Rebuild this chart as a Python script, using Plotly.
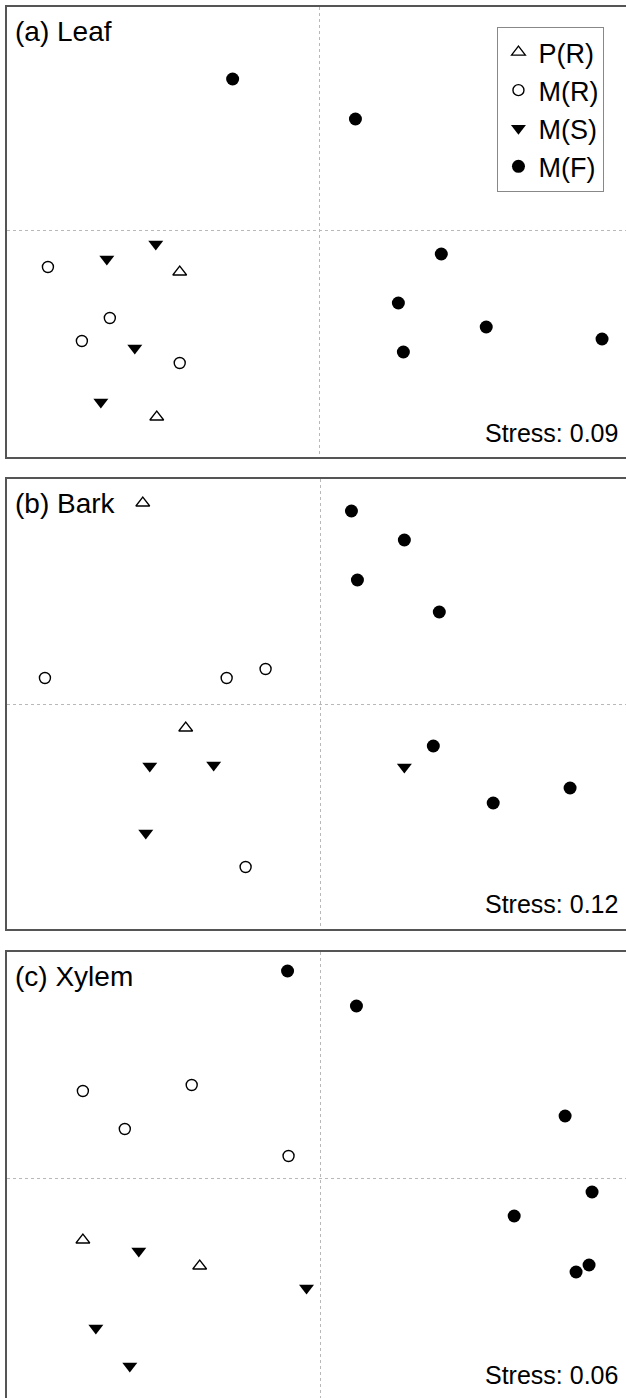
import plotly.graph_objects as go

# ---- data (NMDS scores) ----
groups = ["P(R)", "M(R)", "M(S)", "M(F)"]

leaf_PR_x = [-0.560, -0.652]
leaf_PR_y = [-0.168, -0.748]
leaf_MR_x = [-1.088, -0.840, -0.952, -0.560]
leaf_MR_y = [-0.148, -0.352, -0.444, -0.532]
leaf_MS_x = [-0.656, -0.852, -0.740, -0.876]
leaf_MS_y = [-0.056, -0.116, -0.472, -0.688]
leaf_MF_x = [-0.348, 0.144, 0.488, 0.316, 0.668, 0.336, 1.132]
leaf_MF_y = [0.604, 0.444, -0.096, -0.292, -0.388, -0.488, -0.436]

bark_PR_x = [-0.712, -0.540]
bark_PR_y = [0.804, -0.096]
bark_MR_x = [-1.104, -0.376, -0.220, -0.300]
bark_MR_y = [0.104, 0.104, 0.140, -0.652]
bark_MS_x = [-0.684, -0.428, -0.700, 0.336]
bark_MS_y = [-0.248, -0.244, -0.516, -0.252]
bark_MF_x = [0.124, 0.336, 0.148, 0.476, 0.452, 0.692, 1.000]
bark_MF_y = [0.772, 0.656, 0.496, 0.368, -0.168, -0.396, -0.336]

xyl_PR_x = [-0.952, -0.484]
xyl_PR_y = [-0.248, -0.352]
xyl_MR_x = [-0.952, -0.516, -0.784, -0.128]
xyl_MR_y = [0.348, 0.372, 0.196, 0.088]
xyl_MS_x = [-0.728, -0.056, -0.900, -0.764]
xyl_MS_y = [-0.292, -0.440, -0.600, -0.752]
xyl_MF_x = [-0.132, 0.144, 0.980, 1.088, 0.776, 1.076, 1.024]
xyl_MF_y = [0.828, 0.688, 0.248, -0.056, -0.152, -0.348, -0.376]

panel_titles = ["(a) Leaf", "(b) Bark", "(c) Xylem"]
stress_labels = ["Stress: 0.09", "Stress: 0.12", "Stress: 0.06"]

panels = [
    (leaf_PR_x, leaf_PR_y, leaf_MR_x, leaf_MR_y, leaf_MS_x, leaf_MS_y, leaf_MF_x, leaf_MF_y),
    (bark_PR_x, bark_PR_y, bark_MR_x, bark_MR_y, bark_MS_x, bark_MS_y, bark_MF_x, bark_MF_y),
    (xyl_PR_x, xyl_PR_y, xyl_MR_x, xyl_MR_y, xyl_MS_x, xyl_MS_y, xyl_MF_x, xyl_MF_y),
]

# ---- styling ----
W, H = 626, 1398
FONT = "Liberation Sans, Arial, Helvetica, sans-serif"
styles = {
    "P(R)": dict(symbol="triangle-up-open", size=12, color="black", line=dict(width=1.3, color="black")),
    "M(R)": dict(symbol="circle-open", size=11, color="black", line=dict(width=1.4, color="black")),
    "M(S)": dict(symbol="triangle-down", size=13, color="black", line=dict(width=0)),
    "M(F)": dict(symbol="circle", size=13, color="black", line=dict(width=0)),
}

x_ranges = [[-1.252, 1.228], [-1.256, 1.224], [-1.256, 1.224]]
y_ranges = [[-0.908, 0.892], [-0.900, 0.900], [-0.880, 0.904]]
y_domains = [[1 - 457 / H, 1 - 7 / H], [1 - 929 / H, 1 - 479 / H], [0.0, 1 - 952 / H]]

fig = go.Figure()
for p, data in enumerate(panels):
    sfx = "" if p == 0 else str(p + 1)
    for g, gname in enumerate(groups):
        xs, ys = data[2 * g], data[2 * g + 1]
        fig.add_trace(go.Scatter(
            x=xs, y=ys, mode="markers", name=gname, legendgroup=gname,
            showlegend=(p == 0), marker=styles[gname],
            xaxis="x" + sfx, yaxis="y" + sfx,
        ))

axis_common = dict(
    showticklabels=False, ticks="", tickvals=[0], showgrid=True,
    gridcolor="#b8b8b8", gridwidth=1, griddash="dot", zeroline=False,
    showline=True, linecolor="#555555", linewidth=1.5,
)
layout = dict(
    width=W, height=H, autosize=False,
    margin=dict(l=7, r=0, t=0, b=0),
    paper_bgcolor="white", plot_bgcolor="white",
    font=dict(family=FONT, color="black"),
    showlegend=True,
    legend=dict(
        x=496 / W, y=1 - 27 / H, xanchor="left", yanchor="top",
        bordercolor="#888888", borderwidth=1, bgcolor="white",
        font=dict(size=27, family=FONT, color="black"),
        tracegroupgap=0, itemwidth=30,
    ),
)
for p in range(3):
    sfx = "" if p == 0 else str(p + 1)
    layout["xaxis" + sfx] = dict(axis_common, domain=[0, 1], range=x_ranges[p], anchor="y" + sfx,
                                 mirror=(p < 2), side=("top" if p == 2 else "bottom"))
    layout["yaxis" + sfx] = dict(axis_common, domain=y_domains[p], range=y_ranges[p], anchor="x" + sfx,
                                 mirror=False)
fig.update_layout(**layout)

# titles and stress labels positioned in paper coordinates
title_y_px = [32, 503, 977]
stress_y_px = [433, 904, 1375]
for p in range(3):
    fig.add_annotation(text=panel_titles[p], xref="paper", yref="paper",
                       x=6 / W, y=1 - title_y_px[p] / H, xanchor="left", yanchor="middle",
                       showarrow=False, font=dict(size=28, family=FONT, color="black"))
    fig.add_annotation(text=stress_labels[p], xref="paper", yref="paper",
                       x=620 / W, y=1 - stress_y_px[p] / H, xanchor="right", yanchor="middle",
                       showarrow=False, font=dict(size=25, family=FONT, color="black"))

fig.write_html(
    "out.html",
    config={"displayModeBar": False},
    post_script="document.body.style.margin='0';document.body.style.overflow='hidden';",
)
